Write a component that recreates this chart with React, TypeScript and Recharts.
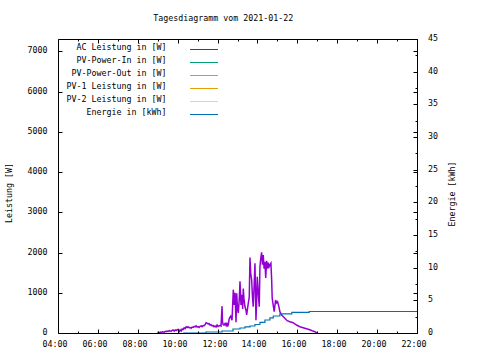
import React from "react";
import { LineChart, Line, XAxis, YAxis, Legend, ReferenceLine } from "recharts";

const TITLE = "Tagesdiagramm vom 2021-01-22";
const Y_LABEL = "Leistung [W]";
const Y2_LABEL = "Energie [kWh]";

const hourTicks = [4, 5, 6, 7, 8, 9, 10, 11, 12, 13, 14, 15, 16, 17, 18, 19, 20, 21, 22];
const wattTicks = [0, 1000, 2000, 3000, 4000, 5000, 6000, 7000];
const kwhTicks = [0, 2.5, 5, 7.5, 10, 12.5, 15, 17.5, 20, 22.5, 25, 27.5, 30, 32.5, 35, 37.5, 40, 42.5, 45];

const seriesNames = [
  "AC Leistung in [W]",
  "PV-Power-In in [W]",
  "PV-Power-Out in [W]",
  "PV-1 Leistung in [W]",
  "PV-2 Leistung in [W]",
  "Energie in [kWh]",
];
const seriesColors = ["#9400d3", "#009e73", "#56b4e9", "#e69f00", "#f0e442", "#0072b2"];

// AC power (hours, W)
const acTime = [
  8.96, 9.0, 9.05, 9.1, 9.15, 9.2, 9.25, 9.3, 9.35, 9.4, 9.45, 9.5, 9.55, 9.6, 9.65, 9.7, 9.75, 9.8,
  9.85, 9.9, 9.95, 10.0, 10.05, 10.1, 10.15, 10.2, 10.25, 10.3, 10.35, 10.4, 10.45, 10.5, 10.55, 10.6,
  10.65, 10.7, 10.75, 10.8, 10.85, 10.9, 10.95, 11.0, 11.05, 11.1, 11.15, 11.2, 11.25, 11.3, 11.35,
  11.4, 11.45, 11.5, 11.55, 11.6, 11.65, 11.7, 11.75, 11.8, 11.85, 11.9, 11.95, 12.0, 12.05, 12.1,
  12.15, 12.2, 12.22, 12.25, 12.3, 12.35, 12.4, 12.435, 12.48, 12.515, 12.565,
  12.635, 12.7, 12.765, 12.815, 12.85, 12.9, 12.935, 12.975, 13.015, 13.065, 13.1, 13.15, 13.2, 13.235,
  13.265, 13.3, 13.35, 13.4, 13.435, 13.475, 13.515, 13.565, 13.6, 13.635, 13.685, 13.725, 13.765,
  13.81, 13.85, 13.875, 13.9, 13.935, 13.965, 14.015, 14.065, 14.1, 14.14, 14.185, 14.225, 14.265,
  14.31, 14.35, 14.39, 14.435, 14.475, 14.515, 14.56, 14.6, 14.65, 14.685, 14.715, 14.765, 14.815,
  14.885, 14.935, 14.985, 15.05, 15.1, 15.185, 15.265, 15.35, 15.465, 15.6, 15.765, 15.935, 16.1,
  16.265, 16.435, 16.6, 16.715, 16.85, 16.985,
];
const acWatt = [
  20, 30, 15, 35, 25, 45, 40, 30, 55, 45, 60, 50, 70, 60, 55, 80, 85, 60,
  90, 75, 95, 100, 45, 90, 60, 110, 100, 140, 120, 165, 150, 170, 145, 150,
  130, 160, 150, 175, 165, 190, 160, 170, 150, 180, 190, 170, 200, 195, 215,
  270, 260, 240, 245, 210, 220, 190, 200, 170, 185, 160, 210, 175, 190, 200,
  185, 680, 300, 230, 210, 250, 200, 270, 170, 230, 380,
  430, 330, 1090, 710, 1010, 280, 1000, 610, 510, 860, 1300, 710, 960, 610,
  1120, 860, 665, 580, 460, 610, 750, 910, 1890, 1510, 1330, 910, 665,
  1210, 1745, 1110, 330, 810, 1410, 1010, 665, 1660, 1860, 2020, 1710, 1950,
  1610, 1785, 1380, 1810, 1610, 1760, 1660, 1710, 1750, 1370, 875, 708, 542,
  832, 762, 790, 667, 542, 460, 422, 378, 318, 293, 269, 211, 169,
  144, 119, 94, 69, 44, 15,
];

// Energy (hours, kWh)
const enTime = [10.25, 11.4, 12.2, 12.75, 13.1, 13.35, 13.6, 13.85, 14.1, 14.35, 14.6, 14.77, 15.1, 15.7, 16.57, 22.0];
const enKwh = [0.08, 0.23, 0.38, 0.69, 0.84, 1.0, 1.15, 1.38, 1.69, 2.07, 2.38, 2.68, 2.99, 3.22, 3.37, 3.37];

const acData = acTime.map((t, i) => ({ t, ac: acWatt[i] }));
const enData = enTime.map((t, i) => ({ t, en: enKwh[i] }));

const FONT = "'DejaVu Sans Mono', 'Liberation Mono', monospace";
const FS = 8.3;
const TOP = 39.5;
const RIGHT = 417.5;
const W_MAX = 7310;

const crisp = (v: number) => Math.round(v - 0.5) + 0.5;

const fmtHour = (h: number) => (h < 10 ? "0" + h : "" + h) + ":00";

const XTick = (props: any) => {
  const { x, y, payload } = props;
  const v = payload.value;
  const major = v % 2 === 0;
  const len = major ? 4 : 2;
  const cx = crisp(x);
  return (
    <g>
      <line x1={cx} y1={y} x2={cx} y2={y - len} stroke="#000" strokeWidth={1} />
      <line x1={cx} y1={TOP} x2={cx} y2={TOP + len} stroke="#000" strokeWidth={1} />
      {major && (
        <text x={cx - 3.5} y={y + 13.5} textAnchor="middle" fontFamily={FONT} fontSize={FS} fill="#000">
          {fmtHour(v)}
        </text>
      )}
    </g>
  );
};

const YLeftTick = (props: any) => {
  const { x, y, payload } = props;
  const cy = crisp(y);
  return (
    <g>
      <line x1={x} y1={cy} x2={x + 4} y2={cy} stroke="#000" strokeWidth={1} />
      <line x1={RIGHT} y1={cy} x2={RIGHT - 4} y2={cy} stroke="#000" strokeWidth={1} />
      <text x={47.5} y={cy + 1} textAnchor="end" fontFamily={FONT} fontSize={FS} fill="#000">
        {payload.value}
      </text>
    </g>
  );
};

const YRightTick = (props: any) => {
  const { x, y, payload } = props;
  const v = payload.value;
  const major = v % 5 === 0;
  const len = major ? 4 : 2;
  const cy = crisp(y);
  return (
    <g>
      <line x1={x} y1={cy} x2={x - len} y2={cy} stroke="#000" strokeWidth={1} />
      {major && (
        <text x={x + 10.5} y={cy + 1} textAnchor="start" fontFamily={FONT} fontSize={FS} fill="#000">
          {v}
        </text>
      )}
    </g>
  );
};

const renderLegend = () => (
  <svg width={480} height={130} style={{ display: "block" }}>
    {seriesNames.map((name, i) => (
      <g key={name}>
        <text x={166.5} y={50.3 + 13 * i} textAnchor="end" fontFamily={FONT} fontSize={FS} fill="#000">
          {name}
        </text>
        <line x1={190} y1={49.5 + 13 * i} x2={218} y2={49.5 + 13 * i} stroke={seriesColors[i]} strokeWidth={1} />
      </g>
    ))}
  </svg>
);

export default function App() {
  return (
    <div style={{ position: "absolute", left: 0, top: 0, width: 480, height: 360, background: "#fff" }}>
      <LineChart width={480} height={360} margin={{ top: TOP, right: 0.5, bottom: 0, left: 0.5 }}>
        <XAxis
          xAxisId="x"
          type="number"
          dataKey="t"
          domain={[4, 22]}
          ticks={hourTicks}
          interval={0}
          allowDataOverflow
          height={26.5}
          tickSize={0}
          tickMargin={0}
          axisLine={{ stroke: "#000", strokeWidth: 1 }}
          tick={<XTick />}
        />
        <YAxis
          yAxisId="w"
          orientation="left"
          type="number"
          domain={[0, W_MAX]}
          ticks={wattTicks}
          interval={0}
          allowDataOverflow
          width={58}
          tickSize={0}
          tickMargin={0}
          axisLine={{ stroke: "#000", strokeWidth: 1 }}
          tick={<YLeftTick />}
        />
        <YAxis
          yAxisId="kwh"
          orientation="right"
          type="number"
          domain={[0, 45]}
          ticks={kwhTicks}
          interval={0}
          allowDataOverflow
          width={62}
          tickSize={0}
          tickMargin={0}
          axisLine={{ stroke: "#000", strokeWidth: 1 }}
          tick={<YRightTick />}
        />
        <ReferenceLine xAxisId="x" yAxisId="w" y={W_MAX} stroke="#000" strokeWidth={1} />
        <Legend
          layout="horizontal"
          verticalAlign="middle"
          align="center"
          wrapperStyle={{ left: 0, top: 0, width: 480, height: 130 }}
          content={renderLegend}
        />
        <Line
          xAxisId="x"
          yAxisId="w"
          data={acData}
          dataKey="ac"
          name={seriesNames[0]}
          stroke={seriesColors[0]}
          strokeWidth={1.5}
          type="linear"
          dot={false}
          activeDot={false}
          isAnimationActive={false}
        />
        <Line xAxisId="x" yAxisId="w" data={[]} dataKey="pvIn" name={seriesNames[1]} stroke={seriesColors[1]} dot={false} activeDot={false} isAnimationActive={false} />
        <Line xAxisId="x" yAxisId="w" data={[]} dataKey="pvOut" name={seriesNames[2]} stroke={seriesColors[2]} dot={false} activeDot={false} isAnimationActive={false} />
        <Line xAxisId="x" yAxisId="w" data={[]} dataKey="pv1" name={seriesNames[3]} stroke={seriesColors[3]} dot={false} activeDot={false} isAnimationActive={false} />
        <Line xAxisId="x" yAxisId="w" data={[]} dataKey="pv2" name={seriesNames[4]} stroke={seriesColors[4]} dot={false} activeDot={false} isAnimationActive={false} />
        <Line
          xAxisId="x"
          yAxisId="kwh"
          data={enData}
          dataKey="en"
          name={seriesNames[5]}
          stroke={seriesColors[5]}
          strokeWidth={1.2}
          type="stepAfter"
          dot={false}
          activeDot={false}
          isAnimationActive={false}
        />
      </LineChart>
      <svg width={480} height={360} style={{ position: "absolute", left: 0, top: 0, pointerEvents: "none" }}>
        <text x={153.3} y={21} fontFamily={FONT} fontSize={FS} fill="#000">
          {TITLE}
        </text>
        <text
          x={0}
          y={0}
          transform="translate(12.3,193) rotate(-90)"
          textAnchor="middle"
          fontFamily={FONT}
          fontSize={FS}
          fill="#000"
        >
          {Y_LABEL}
        </text>
        <text
          x={0}
          y={0}
          transform="translate(455.3,194) rotate(-90)"
          textAnchor="middle"
          fontFamily={FONT}
          fontSize={FS}
          fill="#000"
        >
          {Y2_LABEL}
        </text>
      </svg>
    </div>
  );
}
